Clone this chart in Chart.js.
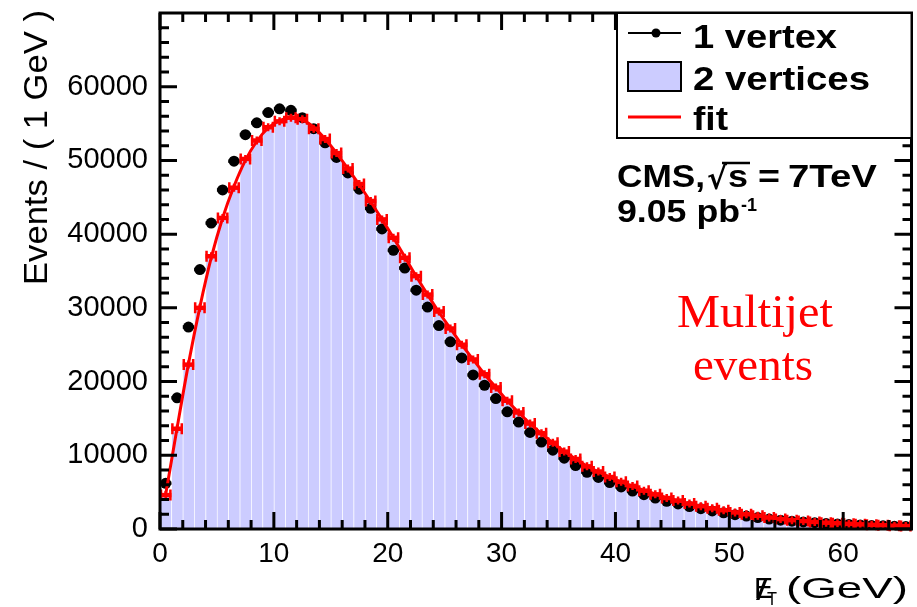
<!DOCTYPE html>
<html>
<head>
<meta charset="utf-8">
<script src="https://cdn.jsdelivr.net/npm/chart.js@4.4.0/dist/chart.umd.min.js"></script>
<style>
  html, body { margin: 0; padding: 0; background: #fff; }
  #wrap { width: 917px; height: 607px; }
</style>
</head>
<body>
<div id="wrap"><canvas id="chart" width="917" height="607"></canvas></div>
<script>
// bin centres (1 GeV bins)
const binCenters = [
  0.5, 1.5, 2.5, 3.5, 4.5, 5.5, 6.5, 7.5, 8.5, 9.5,
  10.5, 11.5, 12.5, 13.5, 14.5, 15.5, 16.5, 17.5, 18.5, 19.5,
  20.5, 21.5, 22.5, 23.5, 24.5, 25.5, 26.5, 27.5, 28.5, 29.5,
  30.5, 31.5, 32.5, 33.5, 34.5, 35.5, 36.5, 37.5, 38.5, 39.5,
  40.5, 41.5, 42.5, 43.5, 44.5, 45.5, 46.5, 47.5, 48.5, 49.5,
  50.5, 51.5, 52.5, 53.5, 54.5, 55.5, 56.5, 57.5, 58.5, 59.5,
  60.5, 61.5, 62.5, 63.5, 64.5, 65.5
];

const oneVertex = [
  6200, 17800, 27400, 35200, 41500, 46000, 49900, 53500, 55100, 56500,
  57000, 56800, 55800, 54300, 52400, 50400, 48300, 46100, 43500, 40700,
  37800, 35400, 32400, 30100, 27600, 25400, 23200, 20900, 19500, 17700,
  15900, 14500, 13100, 11800, 10700, 9600, 8600, 7700, 7000, 6300,
  5700, 5150, 4650, 4200, 3750, 3400, 3050, 2750, 2450, 2200,
  1950, 1750, 1550, 1350, 1200, 1060, 960, 850, 760, 680,
  610, 550, 490, 440, 390, 350
];

const twoVertices = [
  4600, 13600, 22300, 30000, 37000, 42200, 46300, 50200, 52700, 54500,
  55300, 55800, 55600, 54300, 52900, 51000, 48900, 46800, 44500, 42000,
  39500, 36800, 34300, 31800, 29500, 27200, 25000, 23000, 21000, 19200,
  17400, 15800, 14300, 13000, 11700, 10500, 9500, 8500, 7800, 7050,
  6400, 5850, 5200, 4700, 4200, 3850, 3450, 3100, 2800, 2550,
  2250, 2000, 1800, 1550, 1350, 1200, 1080, 960, 860, 780,
  700, 630, 570, 510, 450, 400
];

const fitCurve = [
  4700, 13700, 22400, 30100, 36800, 42200, 46500, 50000, 52600, 54400,
  55400, 55800, 55500, 54500, 52900, 51000, 48900, 46700, 44400, 42000,
  39500, 36900, 34300, 31800, 29400, 27200, 25000, 23000, 21000, 19200,
  17400, 15800, 14300, 12950, 11700, 10550, 9500, 8550, 7750, 7050,
  6400, 5800, 5250, 4750, 4250, 3850, 3450, 3100, 2800, 2530,
  2260, 2020, 1800, 1580, 1380, 1210, 1080, 960, 860, 780,
  700, 630, 570, 510, 450, 400
];

const xTickLabels = [0, 10, 20, 30, 40, 50, 60];
const yTickLabels = [0, 10000, 20000, 30000, 40000, 50000, 60000];
const xMinorTicks = [0, 2, 4, 6, 8, 10, 12, 14, 16, 18, 20, 22, 24, 26, 28, 30, 32,
  34, 36, 38, 40, 42, 44, 46, 48, 50, 52, 54, 56, 58, 60, 62, 64];
const yMinorTicks = [0, 2000, 4000, 6000, 8000, 10000, 12000, 14000, 16000, 18000,
  20000, 22000, 24000, 26000, 28000, 30000, 32000, 34000, 36000, 38000, 40000,
  42000, 44000, 46000, 48000, 50000, 52000, 54000, 56000, 58000, 60000, 62000,
  64000, 66000, 68000];
const xMax = 66, yMax = 70000;

const pts = arr => binCenters.map((x, i) => ({ x: x, y: arr[i] }));

// draw text squeezed/stretched to a given width
function fitText(ctx, str, x, y, w) {
  const m = ctx.measureText(str).width;
  ctx.save();
  ctx.translate(x, y);
  ctx.scale(w / m, 1);
  ctx.fillText(str, 0, 0);
  ctx.restore();
}

const markersPlugin = {
  id: 'markers',
  beforeDatasetDraw(chart, args) {
    if (args.index !== 1) return;
    const xs = chart.scales.x;
    const hw = (xs.getPixelForValue(1) - xs.getPixelForValue(0)) / 2;
    const ctx = chart.ctx;
    // horizontal bars on the black points
    ctx.save();
    ctx.strokeStyle = '#000';
    ctx.lineWidth = 3.5;
    args.meta.data.forEach(p => {
      ctx.beginPath();
      ctx.moveTo(p.x - hw, p.y);
      ctx.lineTo(p.x + hw, p.y);
      ctx.stroke();
    });
    ctx.restore();
  },
  afterDatasetDraw(chart, args) {
    if (args.index !== 2) return;
    const xs = chart.scales.x, ys = chart.scales.y;
    const hw = (xs.getPixelForValue(1) - xs.getPixelForValue(0)) / 2;
    const ctx = chart.ctx;
    ctx.save();
    ctx.strokeStyle = '#ff0000';
    args.meta.data.forEach((p, i) => {
      const err = Math.sqrt(twoVertices[i]);
      const yTop = ys.getPixelForValue(twoVertices[i] + err);
      const yBot = ys.getPixelForValue(twoVertices[i] - err);
      ctx.lineWidth = 4.5;
      ctx.beginPath();
      ctx.moveTo(p.x - hw, p.y);
      ctx.lineTo(p.x + hw, p.y);
      ctx.stroke();
      ctx.lineWidth = 2.5;
      ctx.beginPath();
      ctx.moveTo(p.x - hw + 1, p.y - 5.5);
      ctx.lineTo(p.x - hw + 1, p.y + 5.5);
      ctx.moveTo(p.x + hw - 1, p.y - 5.5);
      ctx.lineTo(p.x + hw - 1, p.y + 5.5);
      ctx.moveTo(p.x, Math.min(yTop, p.y - 4));
      ctx.lineTo(p.x, Math.max(yBot, p.y + 4));
      ctx.stroke();
    });
    ctx.restore();
  }
};

// inward ticks on all four sides, drawn over the histogram
const ticksPlugin = {
  id: 'axisTicks',
  afterDatasetsDraw(chart) {
    const ctx = chart.ctx;
    const a = chart.chartArea;
    const xs = chart.scales.x, ys = chart.scales.y;
    ctx.save();
    ctx.strokeStyle = '#000';
    ctx.lineWidth = 3;
    ctx.lineCap = 'butt';
    ctx.beginPath();
    xMinorTicks.forEach(v => {
      const px = xs.getPixelForValue(v);
      const len = xTickLabels.includes(v) ? 17 : 9;
      ctx.moveTo(px, a.bottom);
      ctx.lineTo(px, a.bottom - len);
      ctx.moveTo(px, a.top);
      ctx.lineTo(px, a.top + len);
    });
    yMinorTicks.forEach(v => {
      const py = ys.getPixelForValue(v);
      const len = yTickLabels.includes(v) ? 17 : 9;
      ctx.moveTo(a.left, py);
      ctx.lineTo(a.left + len, py);
      ctx.moveTo(a.right, py);
      ctx.lineTo(a.right - len, py);
    });
    ctx.stroke();
    ctx.lineWidth = 3;
    ctx.strokeRect(a.left, a.top, a.right - a.left, a.bottom - a.top);
    ctx.restore();
  }
};

const framePlugin = {
  id: 'frame',
  afterDraw(chart) {
    const ctx = chart.ctx;
    const R = chart.chartArea.right;
    ctx.save();
    // legend
    ctx.fillStyle = '#fff';
    ctx.fillRect(617, 13, R - 617, 125);
    ctx.strokeStyle = '#000';
    ctx.lineWidth = 2;
    ctx.strokeRect(617, 13, R - 617, 125);
    ctx.beginPath();
    ctx.moveTo(628, 33);
    ctx.lineTo(681, 33);
    ctx.stroke();
    ctx.fillStyle = '#000';
    ctx.beginPath();
    ctx.arc(656, 33, 4.5, 0, Math.PI * 2);
    ctx.fill();
    ctx.fillStyle = '#ccccff';
    ctx.fillRect(628, 62, 53, 29);
    ctx.strokeRect(628, 62, 53, 29);
    ctx.strokeStyle = '#ff0000';
    ctx.lineWidth = 3;
    ctx.beginPath();
    ctx.moveTo(628, 117);
    ctx.lineTo(681, 117);
    ctx.stroke();

    ctx.fillStyle = '#000';
    ctx.textBaseline = 'alphabetic';
    ctx.textAlign = 'left';
    ctx.font = 'bold 34px "Liberation Sans", Arial, sans-serif';
    fitText(ctx, '1 vertex', 693, 48, 144);
    fitText(ctx, '2 vertices', 693, 90, 177);
    fitText(ctx, 'fit', 693, 130, 35);

    // CMS label
    ctx.font = 'bold 31px "Liberation Sans", Arial, sans-serif';
    fitText(ctx, 'CMS,', 617, 187, 88);
    ctx.font = 'bold 31px "DejaVu Sans", sans-serif';
    fitText(ctx, '\u221A', 707, 189, 20);
    ctx.font = 'bold 31px "Liberation Sans", Arial, sans-serif';
    fitText(ctx, 's', 728, 187, 20);
    ctx.lineWidth = 2.5;
    ctx.strokeStyle = '#000';
    ctx.beginPath();
    ctx.moveTo(722, 163);
    ctx.lineTo(750, 163);
    ctx.stroke();
    fitText(ctx, '=', 758, 187, 22);
    fitText(ctx, '7TeV', 788, 187, 89);
    fitText(ctx, '9.05 pb', 617, 222, 123);
    ctx.font = 'bold 18px "Liberation Sans", Arial, sans-serif';
    fitText(ctx, '-1', 741, 211, 16);

    // Multijet events
    ctx.fillStyle = '#ff0000';
    ctx.font = '47px "Liberation Serif", "Times New Roman", serif';
    fitText(ctx, 'Multijet', 677, 327, 156);
    fitText(ctx, 'events', 693, 380, 120);

    // axis titles
    ctx.fillStyle = '#000';
    ctx.font = '34px "Liberation Sans", Arial, sans-serif';
    ctx.save();
    ctx.translate(47, 10);
    ctx.rotate(-Math.PI / 2);
    const tw = ctx.measureText('Events / ( 1 GeV )').width;
    ctx.scale(275 / tw, 1);
    ctx.textAlign = 'right';
    ctx.fillText('Events / ( 1 GeV )', 0, 0);
    ctx.restore();

    ctx.font = '30px "Liberation Sans", Arial, sans-serif';
    fitText(ctx, 'E', 754, 598, 19);
    fitText(ctx, '/', 756, 600, 12);
    ctx.font = '18px "Liberation Sans", Arial, sans-serif';
    fitText(ctx, 'T', 767, 605, 10);
    ctx.font = '30px "Liberation Sans", Arial, sans-serif';
    fitText(ctx, '(GeV)', 786, 598, 122);
    ctx.restore();
  }
};

new Chart(document.getElementById('chart'), {
  data: {
    datasets: [
      {
        type: 'bar',
        label: '2 vertices',
        data: pts(twoVertices),
        backgroundColor: '#ccccff',
        borderColor: 'rgba(255,255,255,0.35)',
        borderWidth: { left: 1, right: 0, top: 0, bottom: 0 },
        borderSkipped: false,
        barPercentage: 1.0,
        categoryPercentage: 1.0,
        order: 4
      },
      {
        type: 'line',
        label: '1 vertex',
        data: pts(oneVertex),
        showLine: false,
        pointRadius: 5.5,
        pointBackgroundColor: '#000',
        pointBorderWidth: 0,
        order: 3
      },
      {
        type: 'line',
        label: '2 vertices (points)',
        data: pts(twoVertices),
        showLine: false,
        pointRadius: 0,
        order: 2
      },
      {
        type: 'line',
        label: 'fit',
        data: pts(fitCurve),
        borderColor: '#ff0000',
        borderWidth: 3,
        pointRadius: 0,
        cubicInterpolationMode: 'monotone',
        fill: false,
        order: 1
      }
    ]
  },
  options: {
    responsive: false,
    animation: false,
    devicePixelRatio: 1,
    layout: { padding: { left: 0, right: 3, top: 13, bottom: 0 } },
    plugins: { legend: { display: false }, tooltip: { enabled: false } },
    scales: {
      x: {
        type: 'linear',
        min: 0,
        max: xMax,
        offset: false,
        grid: { display: false, drawTicks: false },
        border: { display: false },
        ticks: {
          stepSize: 10,
          autoSkip: false,
          maxRotation: 0,
          padding: 8,
          color: '#000',
          font: { family: '"Liberation Sans", Arial, sans-serif', size: 28 },
          callback: v => xTickLabels.includes(v) ? String(v) : ''
        },
        afterFit: s => { s.height = 78; s.paddingLeft = 0; s.paddingRight = 0; }
      },
      y: {
        min: 0,
        max: yMax,
        grid: { display: false, drawTicks: false },
        border: { display: false },
        ticks: {
          stepSize: 10000,
          autoSkip: false,
          padding: 12,
          color: '#000',
          font: { family: '"Liberation Sans", Arial, sans-serif', size: 29 },
          callback: v => yTickLabels.includes(v) ? String(v) : ''
        },
        afterFit: s => { s.width = 160; s.paddingTop = 0; s.paddingBottom = 0; }
      }
    }
  },
  plugins: [markersPlugin, ticksPlugin, framePlugin]
});
</script>
</body>
</html>
